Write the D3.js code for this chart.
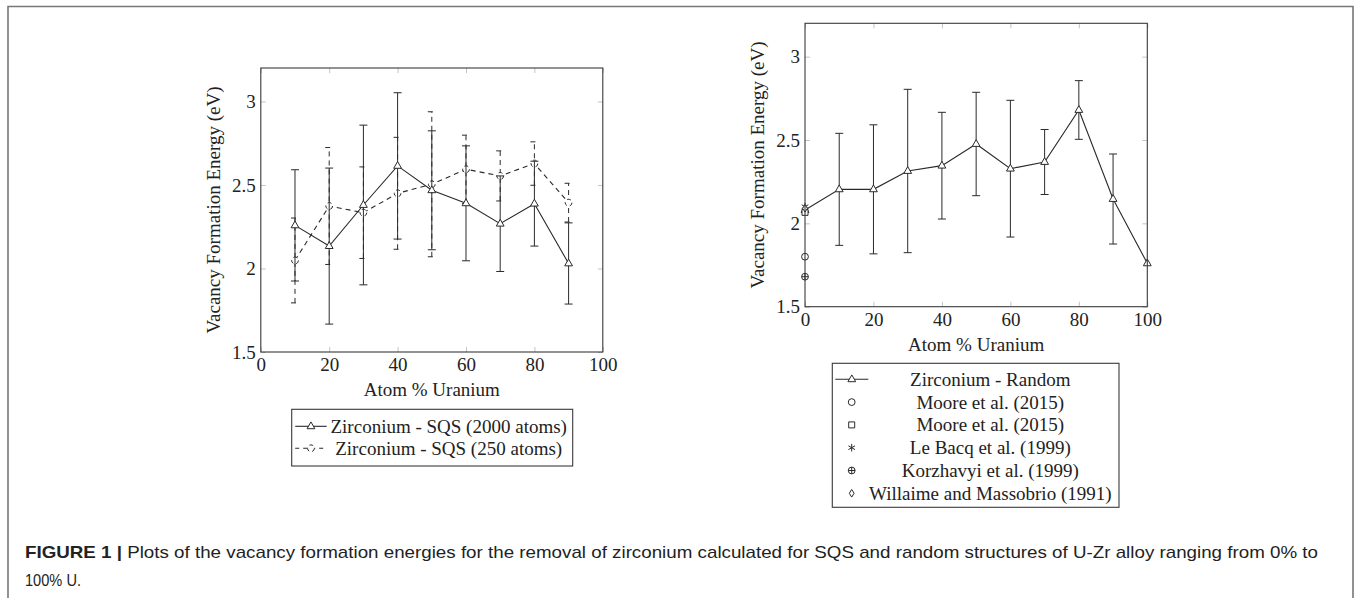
<!DOCTYPE html>
<html>
<head>
<meta charset="utf-8">
<script src="https://cdn.jsdelivr.net/npm/d3@7/dist/d3.min.js"></script>
<style>
  body { margin: 0; background: #fff; }
  svg { display: block; }
  .tex { font-family: "Liberation Serif", "DejaVu Serif", serif; font-size: 19px; fill: #222; }
  .cap { font-family: "Liberation Sans Narrow", "Liberation Sans", Arial, sans-serif; font-size: 17px; fill: #222; }
</style>
</head>
<body>
<svg id="fig" width="1356" height="598"></svg>
<script>
'use strict';

// ---- data ----
const xTicks = [0, 20, 40, 60, 80, 100];
const yTicks = [1.5, 2, 2.5, 3];

// left panel: SQS cells
const sqsX = [10, 20, 30, 40, 50, 60, 70, 80, 90];
const sqs2000 = [2.258, 2.134, 2.380, 2.614, 2.468, 2.390, 2.268, 2.388, 2.030];
const sqs2000Err = [0.333, 0.467, 0.478, 0.438, 0.356, 0.344, 0.286, 0.254, 0.243];
const sqs250 = [2.048, 2.374, 2.334, 2.450, 2.504, 2.594, 2.554, 2.628, 2.394];
const sqs250Err = [0.254, 0.350, 0.274, 0.335, 0.434, 0.204, 0.150, 0.130, 0.116];

// right panel: random structures
const randomX = [0, 10, 20, 30, 40, 50, 60, 70, 80, 90, 100];
const random = [2.080, 2.204, 2.204, 2.314, 2.346, 2.476, 2.328, 2.368, 2.680, 2.146, 1.760];
const randomErr = [0, 0.336, 0.387, 0.490, 0.320, 0.310, 0.410, 0.195, 0.176, 0.270, 0];

// literature values at 0 % U
const refNames = ['Moore et al. (2015)', 'Moore et al. (2015)', 'Le Bacq et al. (1999)',
                  'Korzhavyi et al. (1999)', 'Willaime and Massobrio (1991)'];
const refShapes = ['circle', 'square', 'asterisk', 'oplus', 'diamond'];
const refValues = [1.80, 2.066, 2.10, 1.68, 2.09];

const legendLeft = ['Zirconium - SQS (2000 atoms)', 'Zirconium - SQS (250 atoms)'];
const legendRight = ['Zirconium - Random'].concat(refNames);

const ink = '#2a2a2a';
const dash = '5 4';
const svg = d3.select('#fig');

// outer frame (runs off the bottom of the page)
svg.append('path')
    .attr('d', 'M8,600 L8,6.5 L1353,6.5 L1353,600')
    .attr('fill', 'none').attr('stroke', '#777').attr('stroke-width', 1.6);

function markerPath(shape) {
    switch (shape) {
        case 'triangle': return 'M0,-4.4 L3.9,2.4 L-3.9,2.4 Z';
        case 'circle': return 'M3.4,0 A3.4,3.4 0 1 1 -3.4,0 A3.4,3.4 0 1 1 3.4,0 Z';
        case 'square': return 'M-3,-3 H3 V3 H-3 Z';
        case 'asterisk': return 'M0,-3.8 V3.8 M-3.3,-1.9 L3.3,1.9 M-3.3,1.9 L3.3,-1.9';
        case 'oplus': return 'M3.4,0 A3.4,3.4 0 1 1 -3.4,0 A3.4,3.4 0 1 1 3.4,0 Z M-3.4,0 H3.4 M0,-3.4 V3.4';
        case 'diamond': return 'M0,-3.8 L2.4,0 L0,3.8 L-2.4,0 Z';
    }
}

function drawMarker(g, shape, cx, cy, dashed) {
    g.append('path')
        .attr('d', markerPath(shape))
        .attr('transform', `translate(${cx},${cy})`)
        .attr('fill', 'white')
        .attr('stroke', ink).attr('stroke-width', 1)
        .attr('stroke-dasharray', dashed ? '4 3' : null);
}

function drawPanel(box) {
    const g = svg.append('g').attr('transform', `translate(${box.x},${box.y})`);
    const x = d3.scaleLinear().domain([0, 100]).range([0, box.w]);
    const y = d3.scaleLinear().domain([1.5, 3.2]).range([box.h, 0]);

    const styleAxis = a => {
        a.select('.domain').remove();
        a.selectAll('.tick line').attr('stroke', '#c4c4c4');
        a.selectAll('text').attr('class', 'tex').attr('fill', null);
        a.attr('font-family', null).attr('font-size', null);
    };

    g.append('g').attr('transform', `translate(0,${box.h})`)
        .call(d3.axisBottom(x).tickValues(xTicks).tickSizeInner(-5).tickSizeOuter(0).tickPadding(6))
        .call(styleAxis);
    g.append('g')
        .call(d3.axisLeft(y).tickValues(yTicks).tickSizeInner(-5).tickSizeOuter(0).tickPadding(5)
            .tickFormat(d3.format('')))
        .call(styleAxis);
    g.append('g')
        .call(d3.axisTop(x).tickValues(xTicks).tickSizeInner(-5).tickSizeOuter(0).tickFormat(''))
        .call(styleAxis);
    g.append('g').attr('transform', `translate(${box.w},0)`)
        .call(d3.axisRight(y).tickValues(yTicks).tickSizeInner(-5).tickSizeOuter(0).tickFormat(''))
        .call(styleAxis);

    g.append('text').attr('class', 'tex')
        .attr('x', box.w / 2).attr('y', box.h + 44)
        .attr('text-anchor', 'middle').text('Atom % Uranium');
    g.append('text').attr('class', 'tex')
        .attr('transform', `translate(-41,${box.h / 2}) rotate(-90)`)
        .attr('text-anchor', 'middle').text('Vacancy Formation Energy (eV)');

    return { g, x, y };
}

function drawSeries(p, xs, ys, errs, dashed, shape) {
    const line = d3.line().x((d, i) => p.x(xs[i])).y(d => p.y(d));
    const bars = p.g.append('g')
        .attr('stroke', ink).attr('stroke-width', 1)
        .attr('stroke-dasharray', dashed ? dash : null);
    ys.forEach((v, i) => {
        if (!errs[i]) return;
        const cx = p.x(xs[i]), lo = p.y(v - errs[i]), hi = p.y(v + errs[i]);
        bars.append('line').attr('x1', cx).attr('x2', cx).attr('y1', lo).attr('y2', hi);
        bars.append('line').attr('x1', cx - 4).attr('x2', cx + 4).attr('y1', lo).attr('y2', lo)
            .attr('stroke-dasharray', null);
        bars.append('line').attr('x1', cx - 4).attr('x2', cx + 4).attr('y1', hi).attr('y2', hi)
            .attr('stroke-dasharray', null);
    });
    p.g.append('path').datum(ys)
        .attr('d', line)
        .attr('fill', 'none').attr('stroke', ink).attr('stroke-width', 1.1)
        .attr('stroke-dasharray', dashed ? dash : null);
    ys.forEach((v, i) => drawMarker(p.g, shape, p.x(xs[i]), p.y(v), dashed));
}

function drawFrame(p, box) {
    p.g.append('rect').attr('width', box.w).attr('height', box.h)
        .attr('fill', 'none').attr('stroke', '#3a3a3a').attr('stroke-width', 1.1);
}

function drawLegend(lx, ly, lw, lh, entries, textX, rowH, firstRow) {
    const g = svg.append('g').attr('transform', `translate(${lx},${ly})`);
    g.append('rect').attr('width', lw).attr('height', lh)
        .attr('fill', 'white').attr('stroke', '#3a3a3a').attr('stroke-width', 1.1);
    entries.forEach((e, i) => {
        const cy = firstRow + i * rowH;
        if (e.line) {
            g.append('line').attr('x1', e.x0).attr('x2', e.x1).attr('y1', cy).attr('y2', cy)
                .attr('stroke', ink).attr('stroke-width', 1.1)
                .attr('stroke-dasharray', e.dashed ? '4 4' : null);
        }
        drawMarker(g, e.shape, (e.x0 + e.x1) / 2, cy, e.dashed);
        g.append('text').attr('class', 'tex')
            .attr('x', textX).attr('y', cy + 6.5)
            .attr('text-anchor', 'middle').text(e.label);
    });
}

// ---- left panel ----
const boxL = { x: 260.8, y: 68, w: 342, h: 284 };
const pL = drawPanel(boxL);
drawSeries(pL, sqsX, sqs250, sqs250Err, true, 'circle');
drawSeries(pL, sqsX, sqs2000, sqs2000Err, false, 'triangle');
drawFrame(pL, boxL);

drawLegend(291.7, 409.3, 281, 56.7, [
    { label: legendLeft[0], shape: 'triangle', line: true, x0: 3.5, x1: 35, dashed: false },
    { label: legendLeft[1], shape: 'circle', line: true, x0: 3.5, x1: 35, dashed: true }
], 157, 22, 17);

// ---- right panel ----
const boxR = { x: 805, y: 23.3, w: 342.3, h: 283.4 };
const pR = drawPanel(boxR);
drawSeries(pR, randomX, random, randomErr, false, 'triangle');
refValues.forEach((v, i) => drawMarker(pR.g, refShapes[i], pR.x(0), pR.y(v), false));
drawFrame(pR, boxR);

drawLegend(832.3, 363.3, 286.7, 144, legendRight.map((label, i) => (
    i === 0
        ? { label, shape: 'triangle', line: true, x0: 3, x1: 36, dashed: false }
        : { label, shape: refShapes[i - 1], line: false, x0: 19.4, x1: 19.4, dashed: false }
)), 158, 22.8, 16);

// ---- caption ----
const cap1 = svg.append('text').attr('class', 'cap')
    .attr('x', 25).attr('y', 558)
    .attr('textLength', 1293).attr('lengthAdjust', 'spacingAndGlyphs');
cap1.append('tspan').attr('font-weight', 'bold').text('FIGURE 1 | ');
cap1.append('tspan').text('Plots of the vacancy formation energies for the removal of zirconium calculated for SQS and random structures of U-Zr alloy ranging from 0% to');
svg.append('text').attr('class', 'cap').attr('x', 25).attr('y', 586)
    .attr('textLength', 56).attr('lengthAdjust', 'spacingAndGlyphs').text('100% U.');
</script>
</body>
</html>
